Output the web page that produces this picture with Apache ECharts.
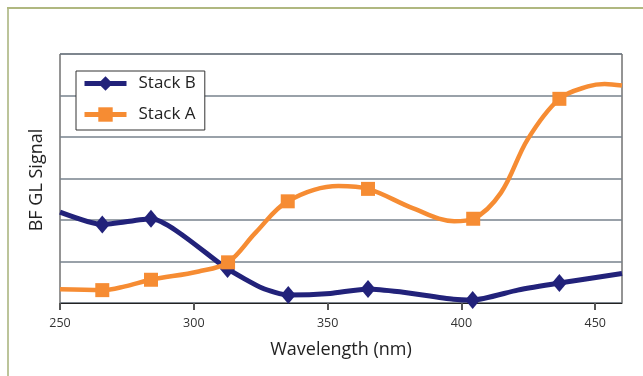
<!DOCTYPE html>
<html>
<head>
<meta charset="utf-8">
<script src="https://cdn.jsdelivr.net/npm/echarts@6/dist/echarts.min.js"></script>
<style>
html,body{margin:0;padding:0;background:#fff;}
#c{width:643px;height:376px;}
</style>
</head>
<body>
<div id="c"></div>
<script>
// Stack B (navy diamonds)
const bX = [250, 265.8, 284, 312.6, 325.5, 335.3, 351, 365.1, 377, 397, 404.2, 421, 436.6, 460];
const bY = [2.19, 1.89, 2.03, 0.82, 0.36, 0.19, 0.23, 0.34, 0.27, 0.09, 0.07, 0.31, 0.48, 0.71];
const bMarked = [0, 1, 1, 1, 0, 1, 0, 1, 0, 0, 1, 0, 1, 0];
// Stack A (orange squares)
const aX = [250, 265.8, 274.3, 284, 301.8, 312.8, 323, 335.1, 354, 365.1, 382, 397.3, 404.4, 414.8, 424.8, 436.6, 447.3, 453.5, 460];
const aY = [0.33, 0.31, 0.40, 0.56, 0.76, 0.98, 1.69, 2.45, 2.82, 2.75, 2.28, 1.97, 2.03, 2.66, 3.95, 4.92, 5.22, 5.28, 5.24];
const aMarked = [0, 1, 0, 1, 0, 1, 0, 1, 0, 1, 0, 0, 1, 0, 0, 1, 0, 0, 0];
const xTicks = [250, 300, 350, 400, 450];
const seriesNames = ['Stack B', 'Stack A'];
const xName = 'Wavelength (nm)';
const yName = 'BF GL Signal';

const NAVY = '#22227a';
const ORANGE = '#f68c33';
const FONT = 'Open Sans';

function build(xs, ys, marks) {
  return xs.map((x, i) => marks[i] ? {value: [x, ys[i]]} : {value: [x, ys[i]], symbol: 'none'});
}

const chart = echarts.init(document.getElementById('c'), null, {renderer: 'canvas'});
chart.setOption({
  animation: false,
  backgroundColor: '#fff',
  textStyle: {fontFamily: FONT},
  grid: {left: 60, top: 54, right: 21, bottom: 73, show: true, borderColor: '#2a2a2a', borderWidth: 1, backgroundColor: 'transparent'},
  graphic: [
    {type: 'line', shape: {x1: 8, y1: 8, x2: 8, y2: 376}, style: {stroke: '#bcc49a', lineWidth: 2}},
    {type: 'line', shape: {x1: 7, y1: 8, x2: 643, y2: 8}, style: {stroke: '#b0b880', lineWidth: 2}},
    {type: 'text', x: 37, y: 180, rotation: Math.PI / 2, style: {text: yName, font: '18px "Open Sans"', fill: '#222', align: 'center', verticalAlign: 'middle'}}
  ],
  legend: {
    data: seriesNames,
    orient: 'vertical',
    left: 76, top: 71,
    itemWidth: 42, itemHeight: 18, itemGap: 14,
    padding: [4, 9, 7, 6],
    borderColor: '#333', borderWidth: 1, backgroundColor: '#fff',
    lineStyle: {width: 5},
    textStyle: {fontSize: 17, color: '#222', fontFamily: FONT, padding: [0, 0, 0, 7]}
  },
  xAxis: {
    type: 'value', min: 250, max: 460, interval: 50,
    name: xName, nameLocation: 'middle', nameGap: 38,
    nameTextStyle: {fontSize: 18, color: '#222', fontFamily: FONT},
    axisLine: {show: true, lineStyle: {color: '#222', width: 1}},
    axisTick: {show: true, length: 7, customValues: xTicks, lineStyle: {color: '#555', width: 2}},
    axisLabel: {fontSize: 12.5, color: '#333', margin: 14, customValues: xTicks, fontFamily: FONT},
    splitLine: {show: false}
  },
  yAxis: {
    type: 'value', min: 0, max: 6, interval: 1,
    axisLine: {show: false}, axisTick: {show: false}, axisLabel: {show: false},
    splitLine: {show: true, lineStyle: {color: '#77828c', width: 1.5}}
  },
  series: [
    {
      name: seriesNames[0], type: 'line', smooth: 0.2,
      data: build(bX, bY, bMarked),
      symbol: 'diamond', symbolSize: [15, 18],
      lineStyle: {color: NAVY, width: 5},
      itemStyle: {color: NAVY},
      z: 3
    },
    {
      name: seriesNames[1], type: 'line', smooth: 0.35,
      data: build(aX, aY, aMarked),
      symbol: 'rect', symbolSize: [14, 14],
      lineStyle: {color: ORANGE, width: 4.5},
      itemStyle: {color: ORANGE},
      z: 4
    }
  ]
});
</script>
</body>
</html>
